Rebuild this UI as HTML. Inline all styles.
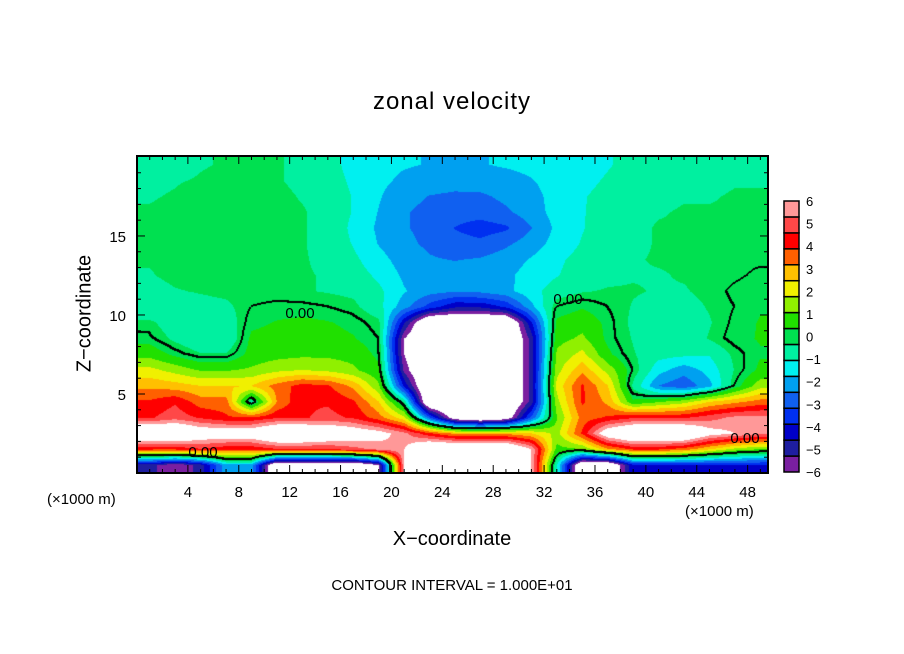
<!DOCTYPE html>
<html><head><meta charset="utf-8"><style>
body{margin:0;background:#fff;width:904px;height:654px;position:relative;overflow:hidden;font-family:"Liberation Sans",sans-serif;}
.t{position:absolute;white-space:nowrap;color:#000;}
</style></head><body>
<div class="t" style="left:0;width:904px;text-align:center;top:88px;font-size:24px;letter-spacing:1px;">zonal velocity</div>
<canvas id="cv" width="631" height="317" style="position:absolute;left:137px;top:156px;"></canvas>
<svg id="sv" width="904" height="654" style="position:absolute;left:0;top:0;"></svg>
<div class="t" style="left:47px;top:491px;font-size:15px;">(×1000 m)</div>
<div class="t" style="left:685px;top:503px;font-size:15px;">(×1000 m)</div>
<div class="t" style="left:0;width:904px;text-align:center;top:528px;font-size:20px;">X−coordinate</div>
<div class="t" style="left:20px;top:302px;font-size:20px;width:130px;text-align:center;transform:rotate(-90deg);">Z−coordinate</div>
<div class="t" style="left:0;width:904px;text-align:center;top:577px;font-size:15px;">CONTOUR INTERVAL = 1.000E+01</div>
<script>
const xCenters=[1,3,5,7,9,11,13,15,17,19,21,23,25,27,29,31,33,35,37,39,41,43,45,47,49];
const zCenters=[19.5,18.5,17.5,16.5,15.5,14.5,13.5,12.5,11.5,10.5,9.5,8.5,7.5,6.5,5.5,4.5,3.5,2.5,1.5,0.5];
const uField=[
[-0.6,-0.6,-0.4,-0.3,-0.3,-0.3,-0.5,-0.8,-1.3,-1.6,-1.7,-1.8,-1.9,-1.8,-1.7,-1.6,-1.5,-1.3,-1.1,-0.9,-0.8,-0.7,-0.7,-0.5,-0.5],
[-0.5,-0.4,-0.3,-0.2,-0.2,-0.3,-0.5,-0.7,-1.2,-1.6,-1.9,-2.1,-2.2,-2.1,-2,-1.8,-1.5,-1.2,-1,-0.8,-0.7,-0.6,-0.5,-0.4,-0.4],
[-0.4,-0.3,-0.1,-0.1,-0.1,-0.2,-0.4,-0.6,-1.1,-1.7,-2.2,-2.5,-2.6,-2.6,-2.3,-2,-1.5,-1.1,-0.9,-0.7,-0.5,-0.4,-0.4,-0.3,-0.3],
[-0.3,-0.2,-0.1,-0.1,-0.1,-0.2,-0.3,-0.6,-1.1,-1.8,-2.4,-2.7,-2.9,-2.9,-2.6,-2.1,-1.5,-1.1,-0.8,-0.5,-0.4,-0.3,-0.3,-0.3,-0.3],
[-0.3,-0.1,-0.1,-0.1,-0.1,-0.1,-0.3,-0.6,-1.2,-1.9,-2.4,-2.7,-3.2,-3.5,-3.3,-2.5,-1.6,-1.1,-0.7,-0.5,-0.3,-0.3,-0.3,-0.2,-0.2],
[-0.3,-0.1,-0.1,-0.1,-0.1,-0.1,-0.3,-0.6,-1.1,-1.8,-2.3,-2.6,-2.9,-3,-2.6,-2.1,-1.5,-1,-0.7,-0.5,-0.3,-0.3,-0.2,-0.2,-0.2],
[-0.3,-0.2,-0.1,-0.1,-0.1,-0.2,-0.3,-0.5,-0.9,-1.5,-2.1,-2.4,-2.5,-2.4,-2.1,-1.7,-1.2,-0.8,-0.6,-0.4,-0.3,-0.3,-0.2,-0.1,-0.1],
[-0.4,-0.2,-0.1,-0.1,-0.1,-0.2,-0.3,-0.4,-0.7,-1.2,-1.9,-2.1,-2.2,-2.1,-1.9,-1.5,-1.1,-0.7,-0.5,-0.4,-0.4,-0.3,-0.2,-0.1,0.1],
[-0.6,-0.4,-0.3,-0.2,-0.2,-0.2,-0.3,-0.4,-0.5,-0.9,-1.7,-2.2,-2.4,-2.3,-2,-1.3,-0.7,-0.4,-0.3,-0.3,-0.4,-0.4,-0.2,0.1,0.3],
[-1,-0.8,-0.6,-0.5,0,0.1,0.1,0,-0.2,-0.8,-2.2,-3.5,-4.5,-4.5,-3.8,-2,0,0.3,0,-0.4,-0.6,-0.6,-0.3,0,0.3],
[-0.2,-0.8,-1,-0.8,0.2,0.4,0.5,0.4,0.2,-0.2,-4.5,-8,-8,-8,-8,-4,0.5,0.8,0.2,-0.5,-0.8,-0.8,-0.4,0.1,0.4],
[0.1,-0.5,-1,-1,0.5,0.6,0.6,0.6,0.4,0,-6,-8,-8,-8,-8,-5,0.8,1.2,0.2,-0.4,-0.8,-0.8,-0.3,0.2,0.4],
[0.8,0.2,-0.3,-0.3,0.6,0.8,0.9,0.9,0.8,0.2,-6,-8,-8,-8,-8,-5,1.2,2,0.5,-0.3,-0.8,-0.9,-1,-0.2,0.3],
[2,1.5,1,1,1.2,1.6,1.8,1.6,1.2,0.5,-5.5,-8,-8,-8,-8,-5,1.5,3,1.5,0,-1.5,-2.2,-1.5,-0.3,0.5],
[3,2.8,2.5,2.5,2.5,3.5,4.2,4,3,1.2,-4,-8,-8,-8,-8,-5,2,4,2.5,-0.5,-2.5,-3,-2,0,1.5],
[4,4.5,3.5,3.5,-0.8,3.2,4.5,4.5,4,2.5,-0.5,-8,-8,-8,-8,-5,1.5,4,3,0.5,1,1.5,2.5,3,3.5],
[4.5,5,4.5,4,4,4.5,4.5,4.8,4.5,3.5,2,-3,-7,-8,-7,-3,1,3.5,4,4.5,4.5,4.5,5,5.5,5.5],
[8,8,7,7,7,8,8,7.5,7,6.5,5.5,4,3,3,3,2.5,1.5,4,7,8,8,8,6.5,6,5.5],
[4,4,4.5,4,4,4.5,4.5,4.5,5,5.5,6,8,8,8,8,6,0.8,1,3,4,4,3.5,2.5,1.5,1],
[-5,-6,-5,-2,-2,-8,-8,-8,-8,-6,6,8,8,8,8,6,-1,-8,-8,-4,-4,-4,-4,-4,-4]
];
const cbLabels=["6","5","4","3","2","1","0","−1","−2","−3","−4","−5","−6"];
const xTickLabels=[4,8,12,16,20,24,28,32,36,40,44,48];
const yTickLabels=[5,10,15];
const colors=["#7a1fa0","#1e1ea0","#0000c8","#0030f0","#1060f0","#00a0f0","#00f0f0","#00f0a0","#00e050","#20e000","#90f000","#f0f000","#ffc000","#ff6000","#ff0000","#ff4848","#ff9898"];
const X0=137,Y0=156,W=631,H=317,XMAX=49.6,ZMAX=20.06;
function sx(x){return X0+x/XMAX*W;}
function sy(z){return Y0+H-z/ZMAX*H;}
function sample(x,z){
  let fi=(x-xCenters[0])/(xCenters[1]-xCenters[0]);
  let fj=(zCenters[0]-z)/(zCenters[0]-zCenters[1]);
  fi=Math.max(0,Math.min(xCenters.length-1,fi));fj=Math.max(0,Math.min(zCenters.length-1,fj));
  const i=Math.min(Math.floor(fi),xCenters.length-2),j=Math.min(Math.floor(fj),zCenters.length-2);
  const a=fi-i,b=fj-j;
  return uField[j][i]*(1-a)*(1-b)+uField[j][i+1]*a*(1-b)+uField[j+1][i]*(1-a)*b+uField[j+1][i+1]*a*b;
}
function hex(c){return [parseInt(c.substr(1,2),16),parseInt(c.substr(3,2),16),parseInt(c.substr(5,2),16)];}
const rgb=colors.map(hex);
const cv=document.getElementById('cv'),ctx=cv.getContext('2d');
const img=ctx.createImageData(W,H);
const vals=new Float32Array(W*H);
for(let py=0;py<H;py++)for(let px=0;px<W;px++){
  vals[py*W+px]=sample((px+0.5)/W*XMAX,(H-py-0.5)/H*ZMAX);
}
for(let py=0;py<H;py++)for(let px=0;px<W;px++){
  const v=vals[py*W+px];let c;
  if(v>6||v<-6)c=[255,255,255];
  else{let k=Math.floor((v+6)/12*17);k=Math.max(0,Math.min(16,k));c=rgb[k];}
  const r=px<W-2?vals[py*W+px+2]:v,d=py<H-2?vals[(py+2)*W+px]:v;
  if((v<0)!==(r<0)||(v<0)!==(d<0))c=[0,0,0];
  const o=(py*W+px)*4;img.data[o]=c[0];img.data[o+1]=c[1];img.data[o+2]=c[2];img.data[o+3]=255;
}
ctx.putImageData(img,0,0);
const NS='http://www.w3.org/2000/svg',sv=document.getElementById('sv');
function mk(t,attrs,txt){const e=document.createElementNS(NS,t);for(const k in attrs)e.setAttribute(k,attrs[k]);if(txt!==undefined)e.textContent=txt;sv.appendChild(e);return e;}
let e=mk('rect',{x:X0,y:Y0,width:W,height:H,fill:'none',stroke:'#000','stroke-width':2});


for(let x=1;x<XMAX;x++){const big=x%4===0,L=big?8:4;
  mk('line',{x1:sx(x),x2:sx(x),y1:Y0+H,y2:Y0+H-L,stroke:'#000'});
  mk('line',{x1:sx(x),x2:sx(x),y1:Y0,y2:Y0+L,stroke:'#000'});}
for(let z=1;z<20;z++){const big=z%5===0,L=big?8:4;
  mk('line',{x1:X0,x2:X0+L,y1:sy(z),y2:sy(z),stroke:'#000'});
  mk('line',{x1:X0+W,x2:X0+W-L,y1:sy(z),y2:sy(z),stroke:'#000'});}
xTickLabels.forEach(v=>{e=mk('text',{x:sx(v),y:497,'font-size':15,'text-anchor':'middle','font-family':'Liberation Sans'},String(v));
  
  });
yTickLabels.forEach(v=>{e=mk('text',{x:126,y:sy(v)+6,'font-size':15,'text-anchor':'end','font-family':'Liberation Sans'},String(v));
  
  });
const zeroLabels=[[300,312],[568,298],[203,451],[745,437]];
zeroLabels.forEach(p=>{e=mk('text',{x:p[0],y:p[1]+6,'font-size':15,'text-anchor':'middle','font-family':'Liberation Sans'},'0.00');
  
  });
const CX=784,CY=201,CW=15,CH=271;
for(let k=0;k<17;k++){const h=CH/17;
  e=mk('rect',{x:CX,y:CY+CH-(k+1)*h,width:CW,height:h,fill:colors[k],stroke:'#000','stroke-width':1.5});
  
  }
cbLabels.forEach((t,i)=>{e=mk('text',{x:806,y:CY+i*CH/12+5,'font-size':13,'font-family':'Liberation Sans'},t);
  
  });
</script>
</body></html>
